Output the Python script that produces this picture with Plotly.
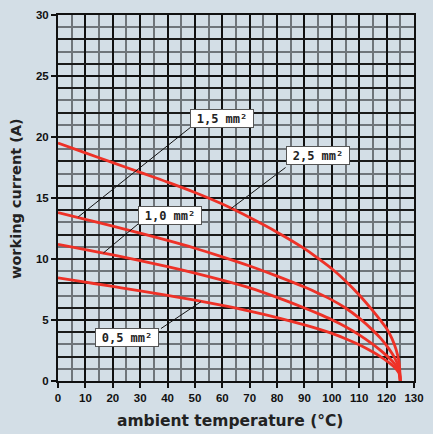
import plotly.graph_objects as go

# Derating curves: permissible working current vs. ambient temperature
temp_grid = [0, 10, 20, 30, 40, 50, 60, 70, 80, 90, 95, 100, 105, 110, 115,
             118, 120, 122, 123.5, 124.5, 125]

amps_25 = [19.5, 18.7, 17.9, 17.1, 16.3, 15.45, 14.5, 13.4, 12.2, 10.85, 10.05,
           9.2, 8.2, 7.05, 5.75, 4.9, 4.3, 3.45, 2.55, 1.6, 0]
amps_15 = [13.8, 13.25, 12.7, 12.12, 11.52, 10.88, 10.18, 9.43, 8.6, 7.7, 7.2,
           6.65, 5.98, 5.15, 4.15, 3.45, 2.9, 2.25, 1.65, 1.05, 0]
amps_10 = [11.2, 10.77, 10.33, 9.87, 9.38, 8.85, 8.27, 7.63, 6.85, 5.98, 5.52,
           5.02, 4.45, 3.78, 3.0, 2.47, 2.08, 1.64, 1.22, 0.8, 0]
amps_05 = [8.45, 8.1, 7.75, 7.39, 7.02, 6.63, 6.2, 5.73, 5.2, 4.6, 4.27,
           3.9, 3.47, 2.97, 2.37, 1.96, 1.65, 1.3, 0.98, 0.65, 0]

series = [amps_25, amps_15, amps_10, amps_05]

# Cross-section labels: (text, box centre, point on curve)
labels = [
    ("1,5 mm²", (59.9, 21.55), (7.4, 13.45)),
    ("2,5 mm²", (94.8, 18.5), (63.3, 14.15)),
    ("1,0 mm²", (40.8, 13.6), (16.6, 10.5)),
    ("0,5 mm²", (25.1, 3.6), (52.2, 6.5)),
]
# corner of each box where the leader line starts
leader_start = [(49.0, 20.9), (83.1, 17.5), (29.4, 12.9), (37.6, 4.3)]

BG = "#d3dee6"
RED = "#ee3127"
TICKFONT = dict(family="Liberation Sans", size=11.5, color="#111111", weight="bold")
TITLEFONT = dict(family="DejaVu Sans", color="#222222", weight="bold")

fig = go.Figure()
for amps in series:
    fig.add_trace(go.Scatter(
        x=temp_grid, y=amps, mode="lines",
        line=dict(color=RED, width=2.8, shape="spline", smoothing=1.0),
        hoverinfo="skip", showlegend=False,
    ))
# empty trace to activate the secondary grid axis
fig.add_trace(go.Scatter(x=[0], y=[0], yaxis="y2", mode="markers",
                         marker=dict(opacity=0), showlegend=False, hoverinfo="skip"))

for (text, (cx, cy), (px, py)), (sx, sy) in zip(labels, leader_start):
    fig.add_shape(type="line", xref="x", yref="y", x0=sx, y0=sy, x1=px, y1=py,
                  line=dict(color="#111111", width=1))
    fig.add_annotation(
        x=cx, y=cy, xref="x", yref="y", text=text, showarrow=False,
        font=dict(family="DejaVu Sans Mono", size=12, color="#222222", weight="bold"),
        bgcolor="white", bordercolor="#555555", borderwidth=1,
        width=58, height=13, borderpad=2,
    )

fig.add_annotation(
    x=0.482, y=-0.108, xref="paper", yref="paper", showarrow=False,
    xanchor="center", yanchor="middle",
    text="ambient temperature (°C)", font=dict(TITLEFONT, size=15.5),
)
fig.add_annotation(
    x=-0.118, y=0.5, xref="paper", yref="paper", showarrow=False, textangle=-90,
    xanchor="center", yanchor="middle",
    text="working current (A)", font=dict(TITLEFONT, size=14.5),
)

fig.update_layout(
    width=433, height=434,
    margin=dict(l=58, r=9, t=9, b=53),
    paper_bgcolor=BG, plot_bgcolor=BG,
    xaxis=dict(
        range=[0, 130], dtick=10, tick0=0,
        showgrid=True, gridcolor="#111111", gridwidth=2,
        minor=dict(dtick=5, showgrid=True, gridcolor="#6f757a", gridwidth=2),
        showline=True, linecolor="#111111", linewidth=2, mirror=True,
        ticks="outside", ticklen=5, tickwidth=2, tickcolor="#111111",
        tickfont=TICKFONT, zeroline=False, fixedrange=True,
    ),
    yaxis=dict(
        range=[0, 30], dtick=5, tick0=0,
        showgrid=True, gridcolor="#111111", gridwidth=2,
        minor=dict(dtick=1, showgrid=True, gridcolor="#6f757a", gridwidth=2),
        showline=True, linecolor="#111111", linewidth=2, mirror=True,
        ticks="outside", ticklen=5, tickwidth=2, tickcolor="#111111",
        tickfont=TICKFONT, zeroline=False, fixedrange=True,
    ),
    yaxis2=dict(
        overlaying="y", range=[0, 30],
        tickvals=list(range(0, 31, 2)), showticklabels=False, ticks="",
        showgrid=True, gridcolor="#1a1a1a", gridwidth=2,
        zeroline=False, showline=False, fixedrange=True,
    ),
)

fig.write_html("out.html")
